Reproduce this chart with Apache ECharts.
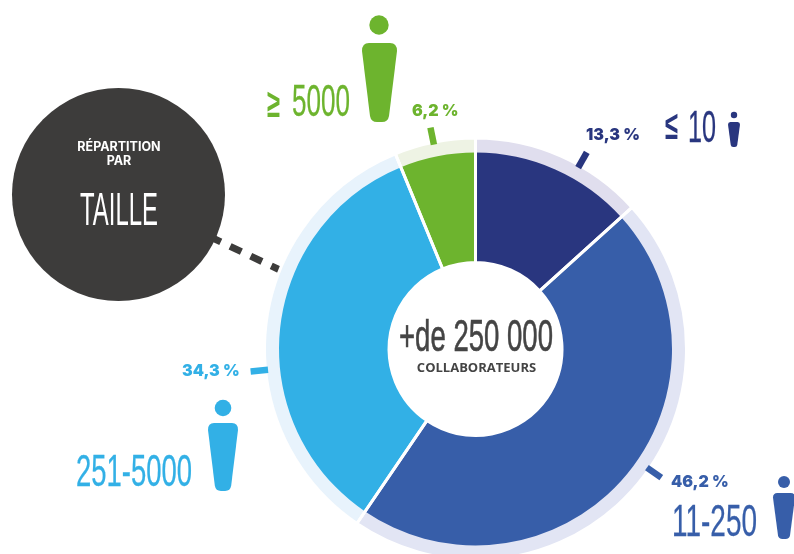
<!DOCTYPE html>
<html lang="fr">
<head>
<meta charset="utf-8">
<title>Répartition par taille</title>
<style>html,body{margin:0;padding:0;background:#fff}#chart{width:794px;height:554px}</style>
<script src="https://cdn.jsdelivr.net/npm/echarts@6/dist/echarts.min.js"></script>
</head>
<body>
<div id="chart"></div>
<script>
// Company size bands and their share of staff
const categories = ['≤ 10', '11-250', '251-5000', '≥ 5000'];
const shares = [13.3, 46.2, 34.3, 6.2];
const sliceColors = ['#29367f', '#375ea9', '#32b0e6', '#6db42e'];
const ringColors = ['#e0deee', '#e2e5f4', '#e8f3fc', '#eef3e4'];

const CENTER = [475.5, 349];
const HOLE_R = 86.5, FILL_R = 196.5, RING_R = 211;

// Angle of each leader tick, clockwise from 12 o'clock
const tickAngles = [29.5, 124.7, 264.3, 348.5];
// Where each percentage label sits
const pctLabels = [
  { x: 586, y: 135 }, { x: 671, y: 482 }, { x: 182, y: 371 }, { x: 412, y: 111 }
];
// Band captions: narrow text fitted between left and right
const captions = [
  { t: '≤', l: 665, r: 678, cy: 128, size: 40, i: 0, bold: true },
  { t: '10', l: 688, r: 716, cy: 130, size: 45, i: 0 },
  { t: '11-250', l: 672, r: 757, cy: 524, size: 45, i: 1 },
  { t: '251-5000', l: 76, r: 192, cy: 474, size: 45, i: 2 },
  { t: '≥', l: 267, r: 280, cy: 106, size: 40, i: 3, bold: true },
  { t: '5000', l: 292, r: 350, cy: 104, size: 45, i: 3 }
];
// Person pictograms, one per band, larger for bigger companies
const people = [
  { hx: 734, hy: 115, hr: 3.2, x: 728, y: 122, w: 12, h: 25, i: 0 },
  { hx: 784, hy: 482, hr: 6, x: 773, y: 493, w: 22, h: 46, i: 1 },
  { hx: 223, hy: 408, hr: 8.3, x: 208, y: 423, w: 30, h: 68, i: 2 },
  { hx: 379, hy: 25, hr: 9.7, x: 362, y: 43, w: 35, h: 79, i: 3 }
];

// Tapered torso of the person pictogram, drawn in a 35 x 79 box
echarts.graphic.registerShape('personBody', echarts.graphic.extendShape({
  shape: { x: 0, y: 0, width: 35, height: 79 },
  buildPath(ctx, s) {
    const X = v => s.x + v * s.width / 35, Y = v => s.y + v * s.height / 79;
    ctx.moveTo(X(7), Y(0));
    ctx.lineTo(X(28), Y(0));
    ctx.quadraticCurveTo(X(35), Y(0), X(35), Y(8));
    ctx.lineTo(X(27), Y(73));
    ctx.quadraticCurveTo(X(26), Y(79), X(20), Y(79));
    ctx.lineTo(X(15), Y(79));
    ctx.quadraticCurveTo(X(9), Y(79), X(8), Y(73));
    ctx.lineTo(X(0), Y(8));
    ctx.quadraticCurveTo(X(0), Y(0), X(7), Y(0));
    ctx.closePath();
  }
}));

const NARROW_FONT = '"Liberation Sans"';
const measure = document.createElement('canvas').getContext('2d');

// Horizontally squeezed text so it spans exactly from l to r, optionally thickened
function narrowText(t, l, r, cy, size, color, weight, thicken) {
  const font = (weight || 'normal') + ' ' + size + 'px ' + NARROW_FONT;
  measure.font = font;
  return {
    type: 'text', x: l, y: cy, scaleX: (r - l) / measure.measureText(t).width,
    style: {
      text: t, x: 0, y: 0, fill: color, font: font, textAlign: 'left', textVerticalAlign: 'middle',
      stroke: thicken ? color : null, lineWidth: thicken || 0
    }
  };
}

const graphics = [];

// Dashed connector from the title disc to the ring, under the disc
graphics.push({
  type: 'line', z: 1,
  shape: { x1: 209.5, y1: 236.5, x2: 282, y2: 271 },
  style: { stroke: '#3d3c3b', lineWidth: 7, lineDash: [12.5, 10.3] }
});
graphics.push({ type: 'circle', z: 2, shape: { cx: 118.5, cy: 194.5, r: 106.5 }, style: { fill: '#3d3c3b' } });
const smallWhite = { fill: '#fff', font: '700 12.5px Inter', textAlign: 'center', textVerticalAlign: 'middle' };
graphics.push({ type: 'text', z: 3, style: Object.assign({ text: 'RÉPARTITION', x: 119, y: 147 }, smallWhite) });
graphics.push({ type: 'text', z: 3, style: Object.assign({ text: 'PAR', x: 119, y: 161 }, smallWhite) });
graphics.push(Object.assign(narrowText('TAILLE', 80, 158, 212, 47, '#fff'), { z: 3 }));

// Centre of the donut
graphics.push(Object.assign(narrowText('+de 250 000', 399, 553, 339, 45, '#444444', null, 0.6), { z: 5 }));
graphics.push({
  type: 'text', z: 5,
  style: { text: 'COLLABORATEURS', x: 476.5, y: 368.5, fill: '#444444', font: '700 13px "Open Sans"', textAlign: 'center', textVerticalAlign: 'middle' }
});

// Leader ticks placed in polar terms around the donut centre
tickAngles.forEach((a, i) => {
  const rad = a * Math.PI / 180;
  const at = r => [CENTER[0] + Math.sin(rad) * r, CENTER[1] - Math.cos(rad) * r];
  const p = at(208.5), q = at(226);
  graphics.push({
    type: 'line', z: 5,
    shape: { x1: p[0], y1: p[1], x2: q[0], y2: q[1] },
    style: { stroke: sliceColors[i], lineWidth: 6.5 }
  });
});

captions.forEach(c => graphics.push(Object.assign(
  narrowText(c.t, c.l, c.r, c.cy, c.size, sliceColors[c.i], c.bold ? 'bold' : null, c.bold ? 0 : 0.3),
  { z: 5 }
)));

people.forEach(p => {
  graphics.push({ type: 'circle', z: 5, shape: { cx: p.hx, cy: p.hy, r: p.hr }, style: { fill: sliceColors[p.i] } });
  graphics.push({
    type: 'personBody', z: 5,
    shape: { x: p.x, y: p.y, width: p.w, height: p.h },
    style: { fill: sliceColors[p.i] }
  });
});

const pieBase = {
  type: 'pie', center: CENTER, startAngle: 90, clockwise: true, silent: true, animation: false,
  label: { show: false }, labelLine: { show: false }, emphasis: { disabled: true }
};
const pieData = colors => shares.map((v, i) => ({ name: categories[i], value: v, itemStyle: { color: colors[i] } }));

const chart = echarts.init(document.getElementById('chart'), null, { renderer: 'canvas' });
chart.setOption({
  animation: false,
  backgroundColor: '#ffffff',
  graphic: { elements: graphics },
  series: [
    // Pale outer ring
    Object.assign({}, pieBase, { z: 2, radius: [HOLE_R, RING_R], data: pieData(ringColors) }),
    // Solid slices
    Object.assign({}, pieBase, { z: 3, radius: [HOLE_R, FILL_R], data: pieData(sliceColors) }),
    // White separators through both layers, carrying the percentage labels
    Object.assign({}, pieBase, {
      z: 4, radius: [HOLE_R, RING_R],
      avoidLabelOverlap: false,
      itemStyle: { color: 'rgba(0,0,0,0)', borderColor: '#ffffff', borderWidth: 3 },
      label: {
        show: true, position: 'outside', fontFamily: 'Inter', fontWeight: 900, fontSize: 16,
        formatter: p => String(p.value).replace('.', ',') + ' %'
      },
      labelLayout: p => ({ x: pctLabels[p.dataIndex].x, y: pctLabels[p.dataIndex].y, align: 'left', verticalAlign: 'middle' }),
      data: shares.map((v, i) => ({ name: categories[i], value: v, label: { color: sliceColors[i] } }))
    })
  ]
});
</script>
</body>
</html>
